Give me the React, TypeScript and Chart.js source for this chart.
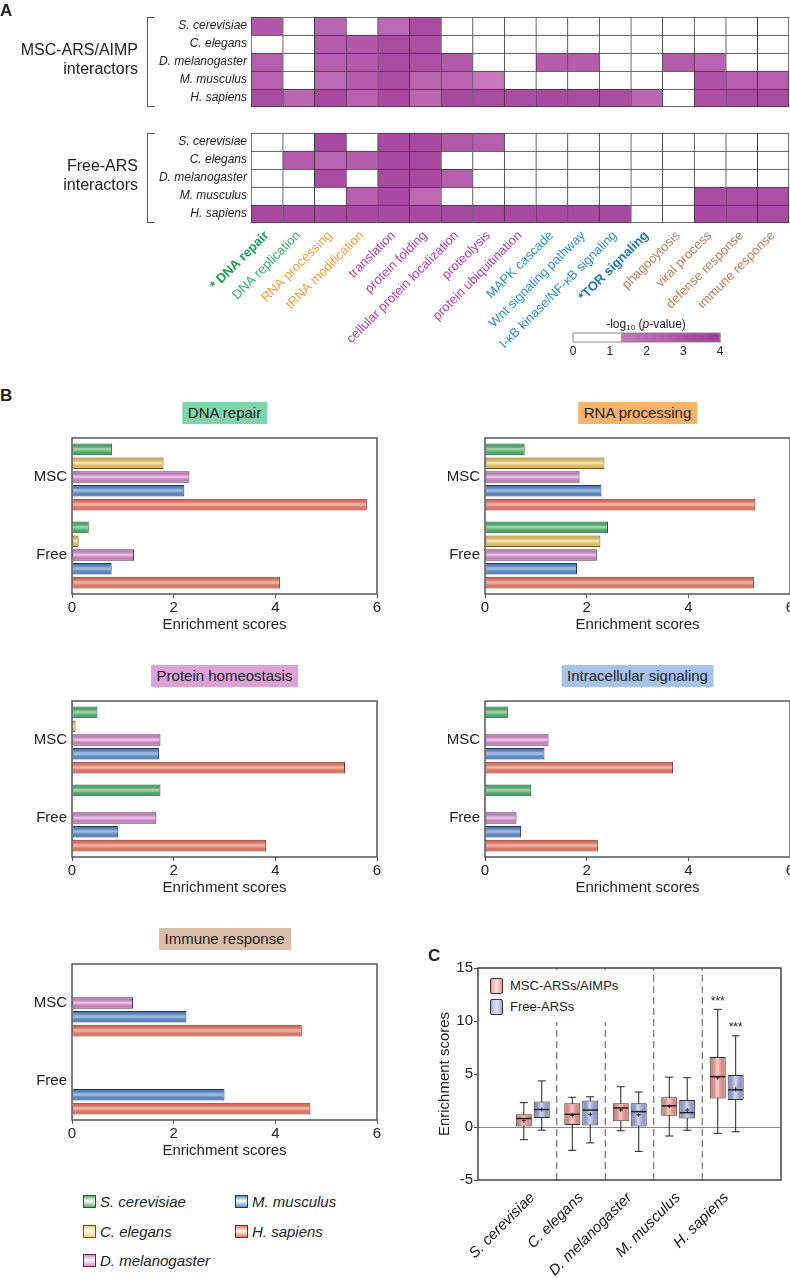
import React, { useEffect, useRef } from 'react';
import { Chart, registerables } from 'chart.js';

Chart.register(...registerables);

const FONT = "'Liberation Sans', Arial, Helvetica, sans-serif";

// ===== Panel A: GO term heatmap =====
const goTerms = [
  '* DNA repair', 'DNA replication', 'RNA processing', 'tRNA modification',
  'translation', 'protein folding', 'cellular protein localization', 'proteolysis',
  'protein ubiquitination', 'MAPK cascade', 'Wnt signaling pathway',
  'I-κB kinase/NF-κB signaling', '*TOR signaling', 'phagocytosis', 'viral process',
  'defense response', 'immune response',
];
const goTermColors = [
  '#16a04f', '#2fb36a', '#f6a13c', '#f6a13c',
  '#b43fb1', '#b43fb1', '#b43fb1', '#b43fb1', '#b43fb1',
  '#2e90d4', '#2e90d4', '#2e90d4', '#1b77c4',
  '#b97f58', '#b97f58', '#b97f58', '#b97f58',
];
const goTermBold = [true, false, false, false, false, false, false, false, false, false, false, false, true, false, false, false, false];
const speciesNames = ['S. cerevisiae', 'C. elegans', 'D. melanogaster', 'M. musculus', 'H. sapiens'];
// -log10(p-value); rows = species (top to bottom), columns = GO terms
const mscLog10P = [
  [2.9, 0, 2.3, 0, 2.2, 3.4, 0, 0, 0, 0, 0, 0, 0, 0, 0, 0, 0],
  [0, 0, 2.7, 2.9, 3.4, 3.3, 0, 0, 0, 0, 0, 0, 0, 0, 0, 0, 0],
  [2.6, 0, 2.6, 2.8, 3.4, 3.2, 2.8, 0, 0, 2.7, 2.7, 0, 0, 2.7, 2.4, 0, 0],
  [2.5, 0, 2.1, 2.7, 3.4, 2.3, 2.4, 1.6, 0, 0, 0, 0, 0, 0, 3.1, 2.6, 2.6],
  [3.4, 2.3, 3.5, 2.5, 3.5, 2.3, 3.5, 3.4, 3.4, 3.5, 3.4, 3.4, 2.3, 0, 3.3, 3.4, 3.4],
];
const freeLog10P = [
  [0, 0, 3.5, 0, 3.5, 3.5, 2.8, 2.6, 0, 0, 0, 0, 0, 0, 0, 0, 0],
  [0, 2.7, 2.3, 2.7, 3.5, 3.5, 0, 0, 0, 0, 0, 0, 0, 0, 0, 0, 0],
  [0, 0, 3.4, 0, 3.5, 3.5, 2.6, 0, 0, 0, 0, 0, 0, 0, 0, 0, 0],
  [0, 0, 0, 2.6, 3.5, 2.2, 0, 0, 0, 0, 0, 0, 0, 0, 3.4, 3.3, 3.2],
  [3.5, 3.5, 3.5, 3.5, 3.5, 3.5, 3.5, 3.5, 3.5, 3.5, 3.5, 3.5, 0, 0, 3.5, 3.4, 3.4],
];
const colorbarTicks = [0, 1, 2, 3, 4];
const significanceCutoff = 1.3;

// ===== Panel B: enrichment scores per category =====
const groupLabels = ['MSC', 'Free'];
const dnaRepairMsc = [0.79, 1.8, 2.31, 2.21, 5.8];
const dnaRepairFree = [0.33, 0.13, 1.22, 0.78, 4.09];
const rnaProcessingMsc = [0.78, 2.35, 1.86, 2.29, 5.32];
const rnaProcessingFree = [2.42, 2.27, 2.2, 1.81, 5.29];
const proteinHomeostasisMsc = [0.5, 0.07, 1.74, 1.71, 5.37];
const proteinHomeostasisFree = [1.74, null, 1.66, 0.91, 3.82];
const intracellularSignalingMsc = [0.45, null, 1.25, 1.17, 3.7];
const intracellularSignalingFree = [0.91, null, 0.62, 0.71, 2.22];
const immuneResponseMsc = [null, null, 1.2, 2.25, 4.52];
const immuneResponseFree = [null, null, null, 3.0, 4.69];
const enrichmentTicks = [0, 2, 4, 6];

// ===== Panel C: box plots =====
const mscMin = [-1.2, -2.2, -0.35, -0.85, -0.6];
const mscQ1 = [0.05, 0.2, 0.55, 1.05, 2.7];
const mscMedian = [0.8, 1.2, 1.8, 2.0, 4.75];
const mscQ3 = [1.2, 2.25, 2.25, 2.8, 6.6];
const mscMax = [2.3, 2.8, 3.8, 4.7, 11.1];
const mscMean = [0.6, 1.1, 1.6, 1.95, 4.65];
const freeMin = [-0.3, -1.5, -2.3, -0.3, -0.45];
const freeQ1 = [0.85, 0.15, 0.05, 0.8, 2.55];
const freeMedian = [1.65, 1.6, 1.45, 1.35, 3.5];
const freeQ3 = [2.4, 2.5, 2.25, 2.55, 4.9];
const freeMax = [4.35, 2.85, 3.3, 4.65, 8.6];
const freeMean = [1.65, 1.2, 1.15, 1.6, 3.55];
const mscStars = ['', '', '', '', '***'];
const freeStars = ['', '', '', '', '***'];
const boxYTicks = [-5, 0, 5, 10, 15];

// ===== styles =====
const speciesFill = ['#4fb56d', '#f5cf62', '#d98ad1', '#5a8dd2', '#f27b64'];
const speciesEdge = ['#1f5a31', '#6d5719', '#5c2a58', '#1d3b67', '#7a2d1f'];
const HEAT_GAP = 26 / 18;

function heatColor(v: number) {
  if (v < significanceCutoff) return '#ffffff';
  const t = Math.min(1, (v - significanceCutoff) / (4 - significanceCutoff));
  const a = [203, 126, 195];
  const b = [160, 60, 152];
  const c = a.map((x, i) => Math.round(x + (b[i] - x) * t));
  return `rgb(${c[0]},${c[1]},${c[2]})`;
}

const makeFrame = (color: string, width: number) => ({
  id: 'frame',
  afterDatasetsDraw(chart: any) {
    const { ctx, chartArea: a } = chart;
    ctx.save();
    ctx.strokeStyle = color;
    ctx.lineWidth = width;
    ctx.strokeRect(a.left, a.top, a.right - a.left, a.bottom - a.top);
    ctx.restore();
  },
});

const glossPlugin = {
  id: 'gloss',
  afterDatasetDraw(chart: any, args: any) {
    const ds: any = chart.data.datasets[args.index];
    if (!ds.gloss) return;
    const ctx = chart.ctx;
    const horizontal = chart.options.indexAxis === 'y';
    ctx.save();
    args.meta.data.forEach((el: any) => {
      const p = el.getProps(['x', 'y', 'base', 'width', 'height'], true);
      if (![p.x, p.y, p.base].every((v: number) => Number.isFinite(v))) return;
      let x0, x1, y0, y1, g;
      if (horizontal) {
        x0 = Math.min(p.x, p.base) + 1; x1 = Math.max(p.x, p.base) - 1;
        y0 = p.y - p.height / 2 + 1; y1 = p.y + p.height / 2 - 1;
        if (x1 <= x0 || y1 <= y0) return;
        g = ctx.createLinearGradient(0, y0, 0, y1);
      } else {
        x0 = p.x - p.width / 2 + 1; x1 = p.x + p.width / 2 - 1;
        y0 = Math.min(p.y, p.base) + 1; y1 = Math.max(p.y, p.base) - 1;
        if (x1 <= x0 || y1 <= y0) return;
        g = ctx.createLinearGradient(x0, 0, x1, 0);
      }
      g.addColorStop(0, 'rgba(0,0,0,0.12)');
      g.addColorStop(0.42, 'rgba(255,255,255,0.45)');
      g.addColorStop(0.55, 'rgba(255,255,255,0.38)');
      g.addColorStop(1, 'rgba(0,0,0,0.08)');
      ctx.fillStyle = g;
      ctx.fillRect(x0, y0, x1 - x0, y1 - y0);
    });
    ctx.restore();
  },
};

const baseOptions = {
  animation: false,
  responsive: false,
  devicePixelRatio: 1,
  plugins: { legend: { display: false }, tooltip: { enabled: false } },
};

// ---------- Heatmap ----------
function heatmapConfig() {
  const datasets: any[] = [];
  const rowCenters: number[] = [];
  const rowLabels: string[] = [];
  const addGroup = (values: number[][], offset: number) => {
    for (let r = speciesNames.length - 1; r >= 0; r--) {
      const bottomRow = r === speciesNames.length - 1;
      datasets.push({
        label: speciesNames[r],
        data: goTerms.map(() => 1),
        backgroundColor: values[r].map(heatColor),
        borderColor: '#3a3a3a',
        borderSkipped: false,
        borderWidth: (c: any) => ({ top: 1, left: 1, right: c.dataIndex === goTerms.length - 1 ? 1 : 0, bottom: bottomRow ? 1 : 0 }),
      });
      rowCenters.push(offset + (speciesNames.length - 1 - r) + 0.5);
      rowLabels.push(speciesNames[r]);
    }
  };
  addGroup(freeLog10P, 0);
  datasets.push({ label: 'gap', data: goTerms.map(() => HEAT_GAP), backgroundColor: 'rgba(0,0,0,0)', borderWidth: 0 });
  addGroup(mscLog10P, speciesNames.length + HEAT_GAP);
  return {
    type: 'bar',
    data: { labels: goTerms, datasets },
    options: {
      ...baseOptions,
      layout: { padding: { top: 17, right: 1, left: 0, bottom: 0 } },
      datasets: { bar: { barPercentage: 1, categoryPercentage: 1 } },
      scales: {
        x: {
          stacked: true,
          grid: { display: false, drawTicks: false },
          border: { display: false },
          ticks: {
            autoSkip: false, minRotation: 45, maxRotation: 45, padding: 5,
            color: (c: any) => goTermColors[c.index],
            font: (c: any) => ({ family: FONT, size: 13, weight: goTermBold[c.index] ? 'bold' : 'normal' }),
          },
          afterFit: (s: any) => { s.height = 142; },
        },
        y: {
          stacked: true, min: 0, max: 2 * speciesNames.length + HEAT_GAP,
          grid: { display: false, drawTicks: false },
          border: { display: false },
          afterBuildTicks: (s: any) => { s.ticks = rowCenters.map((v) => ({ value: v })); },
          ticks: { callback: (_v: any, i: number) => rowLabels[i], font: { family: FONT, size: 12, style: 'italic' }, color: '#222', padding: 4 },
          afterFit: (s: any) => { s.width = 251; },
        },
      },
    },
  };
}

function colorbarConfig() {
  const cbMax = colorbarTicks[colorbarTicks.length - 1];
  return {
    type: 'bar',
    data: {
      labels: [''],
      datasets: [
        { data: [[colorbarTicks[0], significanceCutoff]], backgroundColor: '#ffffff', grouped: false, borderWidth: 0 },
        {
          data: [[significanceCutoff, cbMax]], grouped: false, borderWidth: 0,
          backgroundColor: (c: any) => {
            const chart = c.chart; const sx = chart.scales.x;
            if (!sx || !chart.chartArea) return heatColor(3);
            const g = chart.ctx.createLinearGradient(sx.getPixelForValue(significanceCutoff), 0, sx.getPixelForValue(cbMax), 0);
            g.addColorStop(0, heatColor(significanceCutoff + 0.3));
            g.addColorStop(1, heatColor(cbMax));
            return g;
          },
        },
      ],
    },
    options: {
      ...baseOptions,
      indexAxis: 'y',
      layout: { padding: { top: 5, right: 15, left: 13, bottom: 0 } },
      datasets: { bar: { barPercentage: 1, categoryPercentage: 1 } },
      scales: {
        x: {
          min: colorbarTicks[0], max: cbMax, z: 1,
          grid: { color: 'rgba(0,0,0,0.3)', drawTicks: false },
          border: { display: false },
          ticks: { stepSize: 0.5, autoSkip: false, padding: 2, callback: (v: number) => (colorbarTicks.includes(v) ? String(v) : ''), font: { family: FONT, size: 12 }, color: '#222' },
          afterFit: (s: any) => { s.height = 18; },
        },
        y: { display: false },
      },
    },
    plugins: [makeFrame('#8a8a8a', 1)],
  };
}

// ---------- Bar panels ----------
function barPanelConfig(msc: (number | null)[], free: (number | null)[]) {
  return {
    type: 'bar',
    data: {
      labels: groupLabels,
      datasets: speciesNames.map((n, s) => ({
        label: n, data: [msc[s], free[s]],
        backgroundColor: speciesFill[s], borderColor: speciesEdge[s], borderWidth: 1, borderSkipped: false, gloss: true,
      })),
    },
    options: {
      ...baseOptions,
      indexAxis: 'y',
      layout: { padding: { top: 5, right: 8, left: 0, bottom: 0 } },
      datasets: { bar: { categoryPercentage: 0.885, barPercentage: 0.84 } },
      scales: {
        x: {
          min: enrichmentTicks[0], max: enrichmentTicks[enrichmentTicks.length - 1],
          afterBuildTicks: (s: any) => { s.ticks = enrichmentTicks.map((v) => ({ value: v })); },
          ticks: { font: { family: FONT, size: 15 }, color: '#222', padding: 1 },
          grid: { drawOnChartArea: false, drawTicks: true, tickLength: 4, color: '#555' },
          border: { display: false },
          title: { display: true, text: 'Enrichment scores', font: { family: FONT, size: 15 }, color: '#222', padding: 0 },
          afterFit: (s: any) => { s.height = 40; },
        },
        y: {
          grid: { display: false, drawTicks: false },
          border: { display: false },
          ticks: { font: { family: FONT, size: 15 }, color: '#222', padding: 5 },
          afterFit: (s: any) => { s.width = 72; },
        },
      },
    },
    plugins: [glossPlugin, makeFrame('#555', 1.5)],
  };
}

// ---------- Box plot ----------
const MSC_OFF = 0.32;
const FREE_OFF = 0.69;
function boxConfig() {
  const pos = (off: number) => speciesNames.map((_, i) => i + off);
  const mscX = pos(MSC_OFF);
  const freeX = pos(FREE_OFF);
  const pts = (xs: number[], ys: number[]) => xs.map((x, i) => ({ x, y: ys[i] }));
  const rng = (xs: number[], a: number[], b: number[]) => xs.map((x, i) => ({ x, y: [a[i], b[i]] }));
  const yMin = boxYTicks[0];
  const yMax = boxYTicks[boxYTicks.length - 1];
  const separators = speciesNames.slice(1).map((_, i) => ({
    type: 'line', data: [{ x: i + 1, y: yMin }, { x: i + 1, y: yMax }],
    borderColor: '#555', borderWidth: 1, borderDash: [7, 4], pointRadius: 0, order: 6,
  }));
  const whisker = (xs: number[], a: number[], b: number[]) => ({
    type: 'bar', data: rng(xs, a, b), backgroundColor: '#222', grouped: false,
    barPercentage: 0.5, categoryPercentage: 1, maxBarThickness: 1, borderWidth: 0, order: 5,
  });
  const box = (xs: number[], a: number[], b: number[], color: string) => ({
    type: 'bar', data: rng(xs, a, b), backgroundColor: color, borderColor: '#333', borderWidth: 1,
    borderSkipped: false, grouped: false, barPercentage: 0.95, categoryPercentage: 1, maxBarThickness: 16, gloss: true, order: 4,
  });
  const marks = (data: any[], style: string, radius: number, width: number, order: number) => ({
    type: 'scatter', data, pointStyle: style, pointRadius: radius, pointBorderColor: '#222',
    pointBorderWidth: width, pointBackgroundColor: '#222', order,
  });
  const starsPlugin = {
    id: 'stars',
    afterDatasetsDraw(chart: any) {
      const { ctx, scales } = chart;
      ctx.save();
      ctx.fillStyle = '#222';
      ctx.font = `12px ${FONT}`;
      ctx.textAlign = 'center';
      ctx.textBaseline = 'middle';
      [[mscStars, mscX, mscMax], [freeStars, freeX, freeMax]].forEach(([stars, xs, tops]: any) => {
        stars.forEach((s: string, i: number) => {
          if (!s) return;
          ctx.fillText(s, scales.x.getPixelForValue(xs[i]), scales.y.getPixelForValue(tops[i]) - 8);
        });
      });
      ctx.restore();
    },
  };
  return {
    type: 'bar',
    data: {
      datasets: [
        ...separators,
        whisker(mscX, mscMin, mscMax),
        whisker(freeX, freeMin, freeMax),
        box(mscX, mscQ1, mscQ3, '#f39a93'),
        box(freeX, freeQ1, freeQ3, '#a3addf'),
        marks([...pts(mscX, mscMin), ...pts(mscX, mscMax), ...pts(freeX, freeMin), ...pts(freeX, freeMax)], 'line', 4, 1, 3),
        marks([...pts(mscX, mscMedian), ...pts(freeX, freeMedian)], 'line', 7.5, 1.5, 2),
        marks([...pts(mscX, mscMean), ...pts(freeX, freeMean)], 'cross', 2, 1, 1),
      ],
    },
    options: {
      ...baseOptions,
      layout: { padding: { top: 13, right: 2, left: 16, bottom: 0 } },
      scales: {
        x: {
          type: 'linear', min: 0, max: speciesNames.length,
          afterBuildTicks: (s: any) => { s.ticks = speciesNames.map((_, i) => ({ value: i + 0.5 })); },
          ticks: { callback: (_v: any, i: number) => speciesNames[i], autoSkip: false, minRotation: 45, maxRotation: 45, padding: 9, font: { family: FONT, size: 15, style: 'italic' }, color: '#111' },
          grid: { display: false, drawTicks: false },
          border: { display: false },
          afterFit: (s: any) => { s.height = 98; },
        },
        y: {
          min: yMin, max: yMax,
          afterBuildTicks: (s: any) => { s.ticks = boxYTicks.map((v) => ({ value: v })); },
          ticks: { font: { family: FONT, size: 15 }, color: '#222', padding: 1 },
          grid: { color: (c: any) => (c.tick && c.tick.value === 0 ? '#8a8a8a' : 'rgba(0,0,0,0)'), tickColor: '#444', tickLength: 4, drawTicks: true },
          border: { display: false },
          title: { display: true, text: 'Enrichment scores', font: { family: FONT, size: 15 }, color: '#222', padding: 0 },
          afterFit: (s: any) => { s.width = 42; },
        },
      },
    },
    plugins: [glossPlugin, makeFrame('#444', 1.5), starsPlugin],
  };
}

// ---------- React helpers ----------
function ChartCanvas({ left, top, width, height, config }: any) {
  const ref = useRef<HTMLCanvasElement | null>(null);
  useEffect(() => {
    const chart = new Chart(ref.current as HTMLCanvasElement, config());
    return () => chart.destroy();
  }, []);
  return (
    <div style={{ position: 'absolute', left, top, width, height }}>
      <canvas ref={ref} width={width} height={height} style={{ width, height, display: 'block' }} />
    </div>
  );
}

function T({ x, y, size = 15, children, align = 'left', bold = false, italic = false, color = '#222' }: any) {
  const style: any = {
    position: 'absolute', top: y - size / 2, fontSize: size, lineHeight: size + 'px',
    fontWeight: bold ? 'bold' : 'normal', fontStyle: italic ? 'italic' : 'normal',
    color, whiteSpace: 'nowrap', fontFamily: FONT,
  };
  if (align === 'right') { style.right = 790 - x; style.textAlign = 'right'; }
  else if (align === 'center') { style.left = x; style.transform = 'translateX(-50%)'; }
  else style.left = x;
  return <div style={style}>{children}</div>;
}

function Bracket({ top, height }: any) {
  return (
    <div style={{ position: 'absolute', left: 147, top, width: 7, height: height - 2, borderLeft: '1.5px solid #555', borderTop: '1.5px solid #555', borderBottom: '1.5px solid #555' }} />
  );
}

const barPanels = [
  { title: 'DNA repair', bg: '#80d4a9', plotLeft: 72, plotTop: 429, msc: dnaRepairMsc, free: dnaRepairFree },
  { title: 'RNA processing', bg: '#fbb26b', plotLeft: 485, plotTop: 429, msc: rnaProcessingMsc, free: rnaProcessingFree },
  { title: 'Protein homeostasis', bg: '#dba2da', plotLeft: 72, plotTop: 692, msc: proteinHomeostasisMsc, free: proteinHomeostasisFree },
  { title: 'Intracellular signaling', bg: '#a6c4ea', plotLeft: 485, plotTop: 692, msc: intracellularSignalingMsc, free: intracellularSignalingFree },
  { title: 'Immune response', bg: '#dcbda6', plotLeft: 72, plotTop: 955, msc: immuneResponseMsc, free: immuneResponseFree },
];
const PLOT_W = 305;

const legendItems = [
  { s: 0, x: 83, y: 1201 },
  { s: 1, x: 83, y: 1231 },
  { s: 2, x: 83, y: 1260 },
  { s: 3, x: 235, y: 1201 },
  { s: 4, x: 235, y: 1231 },
];

export default function App() {
  useEffect(() => {
    document.body.style.margin = '0';
    document.body.style.overflow = 'hidden';
  }, []);
  return (
    <div style={{ position: 'absolute', left: 0, top: 0, width: 790, height: 1278, overflow: 'hidden', background: '#fff', fontFamily: FONT }}>
      {/* Panel A */}
      <ChartCanvas left={0} top={0} width={790} height={365} config={heatmapConfig} />
      <ChartCanvas left={560} top={328} width={175} height={32} config={colorbarConfig} />
      <T x={0} y={10} size={17} bold>A</T>
      <T x={138} y={50} size={16} align="right">MSC-ARS/AIMP</T>
      <T x={138} y={69} size={16} align="right">interactors</T>
      <T x={138} y={166} size={16} align="right">Free-ARS</T>
      <T x={138} y={185} size={16} align="right">interactors</T>
      <Bracket top={17} height={90} />
      <Bracket top={133} height={90} />
      <div style={{ position: 'absolute', left: 646, top: 318, transform: 'translateX(-50%)', fontSize: 12, lineHeight: '12px', color: '#222', whiteSpace: 'nowrap', fontFamily: FONT }}>
        -log<span style={{ fontSize: 8, verticalAlign: '-2px' }}>10</span> (<i>p</i>-value)
      </div>

      {/* Panel B */}
      <T x={0} y={395} size={17} bold>B</T>
      {barPanels.map((p, i) => (
        <React.Fragment key={i}>
          <ChartCanvas left={p.plotLeft - 72} top={p.plotTop - 5} width={72 + PLOT_W + 8} height={210} config={() => barPanelConfig(p.msc, p.free)} />
          <div style={{ position: 'absolute', left: p.plotLeft + PLOT_W / 2, top: p.plotTop - 27, transform: 'translateX(-50%)', height: 22, lineHeight: '22px', padding: '0 6px', background: p.bg, fontSize: 15, color: '#222', whiteSpace: 'nowrap', fontFamily: FONT }}>
            {p.title}
          </div>
        </React.Fragment>
      ))}
      {legendItems.map((it) => (
        <React.Fragment key={it.s}>
          <div style={{ position: 'absolute', left: it.x, top: it.y - 6.5, width: 11, height: 11, border: `1px solid ${speciesEdge[it.s]}`, background: `linear-gradient(${speciesFill[it.s]}, rgba(255,255,255,0.7) 45%, ${speciesFill[it.s]})` }} />
          <T x={it.x + 17} y={it.y} size={15} italic>{speciesNames[it.s]}</T>
        </React.Fragment>
      ))}

      {/* Panel C */}
      <ChartCanvas left={420} top={955} width={370} height={323} config={boxConfig} />
      <T x={428} y={955} size={17} bold>C</T>
      <div style={{ position: 'absolute', left: 481, top: 970, width: 172, height: 52, background: '#fff' }} />
      <div style={{ position: 'absolute', left: 490, top: 978, width: 11, height: 14, borderRadius: 2, border: '1px solid #333', background: 'linear-gradient(to right, #f39a93, #fde0dc 50%, #f39a93)' }} />
      <T x={510} y={985} size={13}>MSC-ARSs/AIMPs</T>
      <div style={{ position: 'absolute', left: 490, top: 999, width: 11, height: 14, borderRadius: 2, border: '1px solid #333', background: 'linear-gradient(to right, #a3addf, #e3e7f7 50%, #a3addf)' }} />
      <T x={510} y={1006} size={13}>Free-ARSs</T>
    </div>
  );
}
